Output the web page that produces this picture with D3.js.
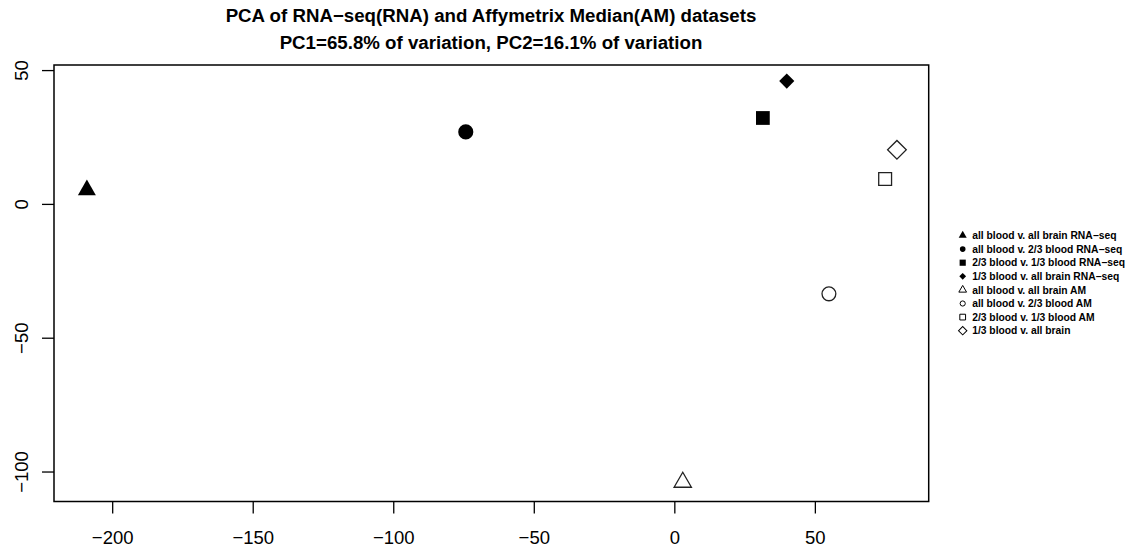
<!DOCTYPE html>
<html>
<head>
<meta charset="utf-8">
<script src="https://cdnjs.cloudflare.com/ajax/libs/d3/7.8.5/d3.min.js"></script>
<style>
  body { margin: 0; background: #fff; }
  svg { font-family: "Liberation Sans", Arial, sans-serif; }
</style>
</head>
<body>
<div id="chart"></div>
<script>
// sample labels (legend order)
var labels = [
  "all blood v. all brain RNA\u2212seq",
  "all blood v. 2/3 blood RNA\u2212seq",
  "2/3 blood v. 1/3 blood RNA\u2212seq",
  "1/3 blood v. all brain RNA\u2212seq",
  "all blood v. all brain AM",
  "all blood v. 2/3 blood AM",
  "2/3 blood v. 1/3 blood AM",
  "1/3 blood v. all brain"
];
// PC scores
var pc1 = [-209, -74.2, 31.5, 40, 3, 55, 75, 79.2];
var pc2 = [5.2, 26.9, 32.1, 45.9, -104, -33.6, 9.3, 20.2];
var shapes = ["triangle", "circle", "square", "diamond", "triangle", "circle", "square", "diamond"];
var filled = [true, true, true, true, false, false, false, false];

var xTicks = [-200, -150, -100, -50, 0, 50];
var yTicks = [-100, -50, 0, 50];

const W = 1134, H = 550;
var svg = d3.select("#chart").append("svg")
    .attr("width", W)
    .attr("height", H);

var x = d3.scaleLinear().domain([-220.7, 90.5]).range([54, 928.7]);
var y = d3.scaleLinear().domain([-111.2, 51.9]).range([501.5, 65]);

// symbol area per shape
var plotSize = { triangle: 140, circle: 180, square: 190, diamond: 115 };
var openSize = { triangle: 130, circle: 150, square: 165, diamond: 175 };
// legend symbols are shrunk, circles a bit more
var legendScale = { triangle: 0.2, circle: 0.14, square: 0.2, diamond: 0.2 };

function symbolPath(shape, size) {
    var t = shape == "triangle" ? d3.symbolTriangle
          : shape == "circle" ? d3.symbolCircle
          : d3.symbolSquare;
    return d3.symbol().type(t).size(size)();
}
function rot(shape) {
    return shape == "diamond" ? " rotate(45)" : "";
}
function minus(d) {
    return d < 0 ? "\u2212" + Math.abs(d) : d;
}

// title
svg.append("text")
    .attr("x", 491).attr("y", 22)
    .attr("text-anchor", "middle")
    .style("font-size", "18.7px").style("font-weight", "bold")
    .text("PCA of RNA\u2212seq(RNA) and Affymetrix Median(AM) datasets");
svg.append("text")
    .attr("x", 491).attr("y", 49)
    .attr("text-anchor", "middle")
    .style("font-size", "18.7px").style("font-weight", "bold")
    .text("PC1=65.8% of variation, PC2=16.1% of variation");

// axes
var xAxis = svg.append("g")
    .attr("transform", "translate(0,501.5)")
    .call(d3.axisBottom(x).tickValues(xTicks).tickSize(12).tickFormat(minus));
xAxis.select(".domain").remove();
xAxis.selectAll("line").attr("stroke", "#000").attr("stroke-width", 1.3);
xAxis.selectAll("text")
    .style("font-size", "18.5px").attr("fill", "#000")
    .attr("font-family", "Liberation Sans, Arial, sans-serif")
    .attr("y", 42.5).attr("dy", null);

var yAxis = svg.append("g")
    .attr("transform", "translate(54,0)")
    .call(d3.axisLeft(y).tickValues(yTicks).tickSize(12).tickFormat(minus));
yAxis.select(".domain").remove();
yAxis.selectAll("line").attr("stroke", "#000").attr("stroke-width", 1.3);
yAxis.selectAll("text")
    .style("font-size", "18.5px").attr("fill", "#000")
    .attr("font-family", "Liberation Sans, Arial, sans-serif")
    .attr("text-anchor", "middle")
    .attr("x", null)
    .attr("dy", null)
    .attr("transform", "translate(-26,0) rotate(-90)");

// plot frame
svg.append("rect")
    .attr("x", 54).attr("y", 65)
    .attr("width", 928.7 - 54).attr("height", 501.5 - 65)
    .attr("fill", "none").attr("stroke", "#000").attr("stroke-width", 1.5);

// points
var idx = d3.range(labels.length);
svg.append("g").selectAll("path")
    .data(idx)
    .enter().append("path")
    .attr("d", function (i) {
        return symbolPath(shapes[i], filled[i] ? plotSize[shapes[i]] : openSize[shapes[i]]);
    })
    .attr("transform", function (i) {
        return "translate(" + x(pc1[i]) + "," + y(pc2[i]) + ")" + rot(shapes[i]);
    })
    .attr("fill", function (i) { return filled[i] ? "#000" : "none"; })
    .attr("stroke", function (i) { return filled[i] ? "none" : "#222"; })
    .attr("stroke-width", 1.3);

// legend
var legend = svg.append("g").selectAll("g")
    .data(idx)
    .enter().append("g")
    .attr("transform", function (i) { return "translate(962.7," + (235.5 + 13.6 * i) + ")"; });

legend.append("path")
    .attr("d", function (i) {
        var s = filled[i] ? plotSize[shapes[i]] : openSize[shapes[i]];
        return symbolPath(shapes[i], s * legendScale[shapes[i]]);
    })
    .attr("transform", function (i) { return rot(shapes[i]).trim(); })
    .attr("fill", function (i) { return filled[i] ? "#000" : "none"; })
    .attr("stroke", function (i) { return filled[i] ? "none" : "#000"; })
    .attr("stroke-width", 1);

legend.append("text")
    .attr("x", 9.5)
    .attr("dy", "0.35em")
    .style("font-size", "10.3px")
    .style("font-weight", "bold")
    .text(function (i) { return labels[i]; });
</script>
</body>
</html>
